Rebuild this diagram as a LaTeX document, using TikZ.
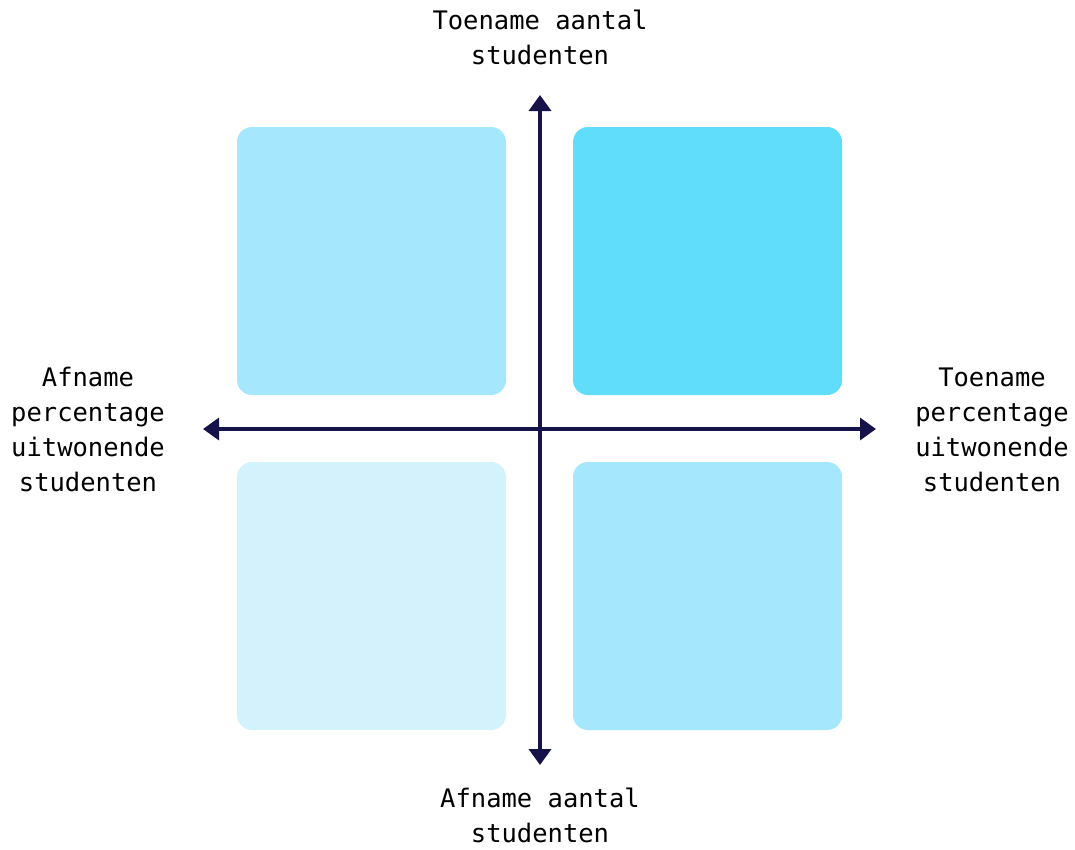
\documentclass[tikz,border=0pt]{standalone}
\usepackage{fontspec}
\setmonofont{DejaVu Sans Mono}
\usetikzlibrary{arrows.meta}
\definecolor{axisnavy}{HTML}{16124A}
\definecolor{cellmid}{HTML}{A5E8FD}
\definecolor{cellstrong}{HTML}{60DDFB}
\definecolor{cellpale}{HTML}{D4F2FC}
\tikzset{
  cell/.style={rounded corners=15pt, draw=none},
  axislabel/.style={font=\ttfamily\fontsize{25.5}{35}\selectfont, align=center, text=black, inner sep=0pt},
  axisline/.style={draw=axisnavy, line width=3.5pt, -{Triangle[width=22pt,length=16pt]}}
}
\begin{document}
\begin{tikzpicture}[x=1pt,y=-1pt]
  \useasboundingbox (0,0) rectangle (1075,849);
  \fill[white] (0,0) rectangle (1075,849);

  % quadrants
  \fill[cell, cellmid]    (237,127) rectangle (506,395);
  \fill[cell, cellstrong] (573,127) rectangle (842,395);
  \fill[cell, cellpale]   (237,462) rectangle (506,730);
  \fill[cell, cellmid]    (573,462) rectangle (842,730);

  % axis ends
  \coordinate (origin) at (540,429);
  \coordinate (up)    at (540,95);
  \coordinate (down)  at (540,765);
  \coordinate (left)  at (203,429);
  \coordinate (right) at (876,429);

  \draw[axisline] (origin) -- (up);
  \draw[axisline] (origin) -- (down);
  \draw[axisline] (origin) -- (left);
  \draw[axisline] (origin) -- (right);

  % labels
  \node[axislabel] (ltop)    at (540,37.5)  {Toename aantal\\studenten};
  \node[axislabel] (lbottom) at (540,815) {Afname aantal\\studenten};
  \node[axislabel] (lleft)   at (88,429.5)  {Afname\\percentage\\uitwonende\\studenten};
  \node[axislabel] (lright)  at (992,429.5) {Toename\\percentage\\uitwonende\\studenten};
\end{tikzpicture}
\end{document}
